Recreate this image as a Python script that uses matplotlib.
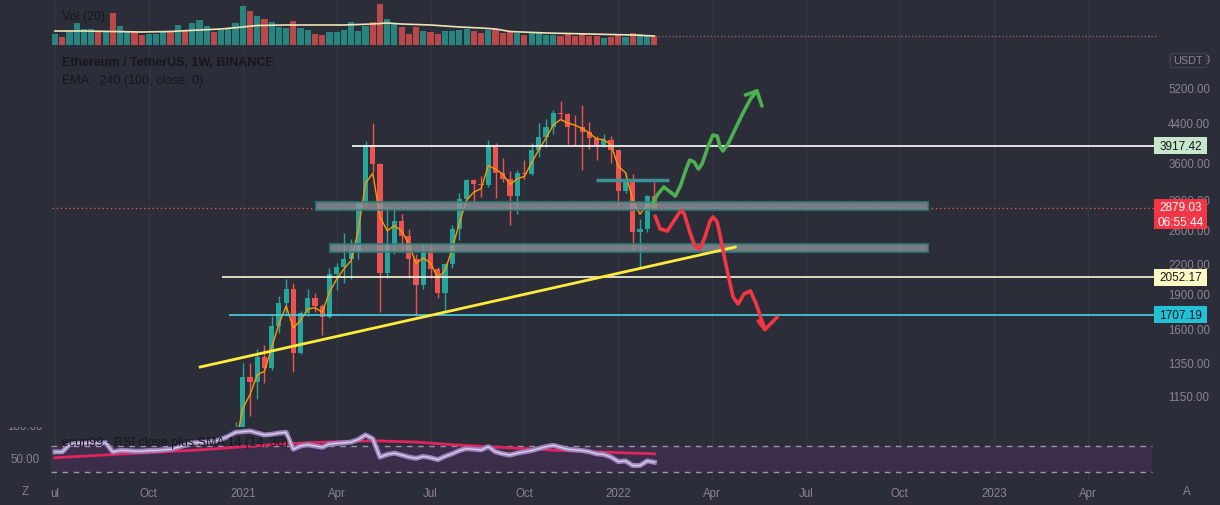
import numpy as np
import matplotlib
matplotlib.use('Agg')
import matplotlib.pyplot as plt
from matplotlib.patches import Rectangle
from matplotlib.ticker import NullLocator

plt.rcParams['font.family'] = ['Liberation Sans', 'DejaVu Sans']

# Weekly ETH/USDT candles, week 0 = 2020-07-06
opens = [241, 243, 237, 310, 386, 395, 428, 391, 435, 353, 365, 370, 354, 350, 370, 372, 405, 385, 455, 450,
         590, 595, 600, 585, 640, 680, 976, 1255, 1230, 1390, 1315, 1614, 1808, 1935, 1417, 1723, 1850, 1780, 1690, 2085,
         2160, 2240, 2320, 2950, 3930, 3580, 2100, 2400, 2710, 2510, 2250, 1980, 2320, 2140, 1900, 2190, 2600, 3010, 3310, 3240,
         3225, 3930, 3430, 3330, 3060, 3420, 3410, 3840, 4080, 4290, 4610, 4570, 4300, 4290, 4190, 4070, 3930, 4020, 3830, 3140,
         3330, 2560, 2600, 3060]
highs = [249, 245, 312, 415, 400, 445, 440, 440, 488, 390, 395, 375, 370, 375, 385, 420, 415, 470, 475, 620,
         620, 635, 600, 670, 680, 1010, 1350, 1350, 1440, 1475, 1700, 1870, 2040, 2000, 1740, 1940, 1900, 1800, 2150, 2200,
         2550, 2480, 2960, 4000, 4380, 3600, 2900, 2890, 2800, 2600, 2300, 2400, 2410, 2160, 2200, 2650, 3100, 3330, 3330, 3380,
         4030, 3970, 3680, 3460, 3480, 3650, 3970, 4380, 4460, 4670, 4870, 4600, 4550, 4780, 4400, 4100, 4150, 4100, 3840, 3420,
         3410, 2730, 3070, 3280]
lows = [234, 227, 236, 300, 370, 370, 380, 375, 310, 330, 355, 308, 330, 335, 360, 360, 370, 375, 440, 445,
        480, 560, 530, 570, 550, 680, 890, 1040, 1130, 1220, 1300, 1560, 1700, 1290, 1410, 1700, 1730, 1545, 1680, 1930,
        2000, 2040, 2250, 2920, 3450, 1730, 2050, 2300, 2320, 2050, 1700, 1940, 2050, 1850, 1720, 2150, 2460, 3000, 2950, 3050,
        3200, 3030, 3280, 2650, 2800, 3330, 3400, 3700, 3900, 4150, 4450, 3940, 3930, 3480, 3850, 3650, 3900, 3600, 2930, 3100,
        2350, 2160, 2560, 2860]
closes = [243, 237, 310, 386, 395, 428, 391, 435, 353, 365, 370, 354, 350, 370, 372, 405, 385, 455, 450, 590,
          595, 600, 585, 640, 680, 976, 1255, 1230, 1390, 1315, 1614, 1808, 1935, 1417, 1723, 1850, 1780, 1690, 2085, 2160,
          2240, 2320, 2950, 3930, 3580, 2100, 2400, 2710, 2510, 2250, 1980, 2320, 2140, 1900, 2190, 2600, 3010, 3310, 3240, 3225,
          3930, 3430, 3330, 3060, 3420, 3410, 3840, 4080, 4290, 4610, 4570, 4300, 4290, 4190, 4070, 3930, 4020, 3830, 3140, 3330,
          2560, 2600, 3060, 2879.03]
volumes = [11, 8, 14, 22, 16, 16, 14, 13, 32, 19, 14, 14, 10, 11, 11, 13, 13, 20, 14, 22,
           25, 19, 13, 15, 16, 22, 39, 34, 29, 26, 23, 18, 17, 24, 17, 15, 11, 10, 13, 13,
           15, 23, 14, 19, 23, 41, 26, 21, 18, 11, 18, 14, 13, 11, 14, 14, 15, 16, 14, 12,
           15, 16, 12, 14, 12, 10, 12, 12, 10, 10, 9, 11, 9, 12, 9, 9, 7, 8, 11, 8,
           12, 11, 9, 9]
vol_ma_weeks = [0, 4, 8, 12, 16, 20, 23, 26, 28, 32, 36, 40, 44, 46, 48, 52, 56, 59, 61, 63, 68, 74, 80, 83]
vol_ma = [14, 14, 13.5, 13, 13.5, 15, 16, 18, 19.5, 20, 20, 20, 21, 22, 21, 20, 18, 17, 16, 13.5, 12, 11, 10, 9]

ema_weeks = list(range(25, 84))
ema = [900, 1078, 1154, 1272, 1293, 1454, 1631, 1783, 1600, 1662, 1756, 1768, 1729, 1907, 2034, 2137, 2228, 2589,
       3260, 3420, 2760, 2580, 2645, 2578, 2414, 2197, 2259, 2199, 2050, 2120, 2360, 2685, 2998, 3119, 3172, 3551,
       3490, 3410, 3235, 3328, 3369, 3604, 3842, 4066, 4338, 4454, 4377, 4333, 4262, 4166, 4048, 4034, 3932, 3536,
       3433, 2997, 2798, 2929, 2904]

rsi = [61, 61, 72, 74, 74, 75, 74, 75, 61, 63, 63, 62, 62, 63, 63, 64, 65, 68, 71, 75,
       75, 76, 77, 80, 85, 91, 92, 93, 90, 87, 88, 90, 91, 65, 70, 72, 70, 68, 73, 74,
       75, 76, 80, 87, 81, 53, 57, 59, 56, 53, 51, 54, 52, 49, 54, 58, 63, 66, 65, 64,
       69, 61, 58, 56, 59, 61, 63, 66, 69, 71, 68, 65, 64, 63, 61, 58, 57, 53, 46, 47,
       40, 40, 47, 45]
rsi_sma_weeks = [0, 5, 10, 15, 20, 25, 30, 35, 40, 44, 50, 55, 60, 65, 70, 75, 80, 83]
rsi_sma = [52, 55, 58, 61, 64, 68, 72, 75, 77, 78, 76, 72, 69, 66, 63, 61, 59, 58]

# drawings on the chart (week index, price)
level_white = 3917.42
level_yellow = 2052.17
level_cyan = 1707.19
last_price = 2879.03
trend_w = [20.1, 94.2]
trend_p = [1321, 2381]
zone1 = (36.1, 120.9, 2856, 2970)
zone2 = (38.1, 120.9, 2324, 2417)
short_line = (74.9, 85.0, 3310)
green_w = [82.7, 83.5, 84.3, 85.2, 85.9, 86.6, 87.4, 87.9, 88.5, 89.1, 89.6, 90.4, 91.1, 91.7, 92.1, 92.5, 93.2,
           94.2, 95.2, 96.3, 97.2]
green_p = [2941, 3090, 3198, 3120, 3059, 3214, 3493, 3651, 3615, 3493, 3580, 3892, 4128, 4108, 3892, 3816, 3950,
           4252, 4577, 4926, 5124]
green_head_w = [95.6, 97.2, 97.9]
green_head_p = [5024, 5124, 4760]
red_w = [83.1, 83.8, 84.8, 85.7, 86.6, 87.1, 87.9, 88.6, 89.3, 90.0, 90.7, 91.1, 91.7, 92.2, 92.8, 93.4, 93.9,
         94.6, 95.4, 96.3, 97.1, 97.8, 98.3]
red_p = [2773, 2602, 2576, 2706, 2842, 2814, 2564, 2393, 2358, 2501, 2706, 2760, 2693, 2477, 2223, 2015, 1863,
         1800, 1891, 1919, 1800, 1672, 1592]
red_head_w = [97.4, 98.3, 100.0]
red_head_p = [1656, 1587, 1688]

price_ticks = [6000, 5200, 4400, 3600, 3000, 2600, 2200, 1900, 1600, 1350, 1150]
time_ticks = [0, 13, 26, 39, 52, 65, 78, 91, 104, 117, 130, 143]
time_labels = ['ul', 'Oct', '2021', 'Apr', 'Jul', 'Oct', '2022', 'Apr', 'Jul', 'Oct', '2023', 'Apr']

BG = '#2b2e39'
UP = '#26a69a'
DOWN = '#ef5350'
MUTED = '#8b8290'
W, H = 1220, 506
XLIM = (-7.62, 152.6)

fig = plt.figure(figsize=(W / 100, H / 100), dpi=100, facecolor=BG)


def fr(x, y, w, h):
    return [x / W, 1 - (y + h) / H, w / W, h / H]


ax = fig.add_axes(fr(0, 0, 1157, 428))
axv = fig.add_axes(fr(0, 0, 1157, 46))
axr = fig.add_axes(fr(0, 428, 1157, 53))
for a in (ax, axv, axr):
    a.set_facecolor('none')
    for s in a.spines.values():
        s.set_visible(False)
    a.set_xlim(*XLIM)
    a.set_xticks(time_ticks)
    a.grid(axis='x', color='#343845', lw=0.8)
    a.set_axisbelow(True)

# ---- price pane ----
ax.set_yscale('log')
ax.set_ylim(984, 8050)
ax.yaxis.set_minor_locator(NullLocator())
ax.set_yticks(price_ticks)
ax.set_yticklabels([f'{v:.2f}' for v in price_ticks])
ax.yaxis.tick_right()
ax.tick_params(axis='y', length=0, pad=8, labelsize=8.3, labelcolor=MUTED)
ax.tick_params(axis='x', length=0, labelbottom=False)

wk = np.arange(len(closes))
o = np.array(opens, float)
c = np.array(closes, float)
colors = [UP if cc >= oo else DOWN for oo, cc in zip(o, c)]
ax.vlines(wk, lows, highs, colors=colors, lw=1, zorder=2)
ax.bar(wk, np.abs(c - o), bottom=np.minimum(o, c), width=0.72, color=colors, zorder=3)
ax.plot(ema_weeks, ema, color='#ff9800', lw=1, zorder=4)

xr = XLIM[1]
ax.hlines(last_price, -0.4, xr, colors=DOWN, lw=1, linestyles=(0, (1, 2)), zorder=2)
for z in (zone1, zone2):
    ax.add_patch(Rectangle((z[0], z[2]), z[1] - z[0], z[3] - z[2], fc='#8d9199', ec='#2e7d77',
                           lw=1.5, alpha=0.8, zorder=5))
ax.hlines(short_line[2], short_line[0], short_line[1], colors='#3f8f96', lw=2.5, zorder=5)
ax.hlines(level_white, 41.1, xr, colors='#ffffff', lw=1.2, zorder=5)
ax.hlines(level_yellow, 23.1, xr, colors='#fbf6dc', lw=1.2, zorder=5)
ax.hlines(level_cyan, 24.1, xr, colors='#4dd0e1', lw=1.2, zorder=5)
ax.plot(trend_w, trend_p, color='#ffeb3b', lw=2, zorder=6)
ax.plot(green_w, green_p, color='#4caf50', lw=2.6, solid_joinstyle='round', solid_capstyle='round', zorder=7)
ax.plot(green_head_w, green_head_p, color='#4caf50', lw=2.6, solid_joinstyle='round', solid_capstyle='round', zorder=7)
ax.plot(red_w, red_p, color='#f23645', lw=2.6, solid_joinstyle='round', solid_capstyle='round', zorder=7)
ax.plot(red_head_w, red_head_p, color='#f23645', lw=2.6, solid_joinstyle='round', solid_capstyle='round', zorder=7)

# ---- volume overlay ----
axv.set_ylim(0, 46)
axv.set_yticks([])
axv.tick_params(axis='x', length=0, labelbottom=False)
axv.bar(wk, volumes, width=0.85, color=colors, alpha=0.72, zorder=2)
axv.plot(vol_ma_weeks, vol_ma, color='#efe3b5', lw=1.2, zorder=3)
axv.hlines(volumes[-1], len(volumes) - 0.5, xr, colors='#a0585c', lw=1, linestyles=(0, (1, 1.5)))

# ---- RSI pane ----
axr.set_ylim(17.7, 99.2)
axr.set_yticks([])
axr.fill_between([-0.5, 151.9], 30, 70, color='#3b2e4b', lw=0, zorder=1)
axr.hlines([30, 70], -0.5, 151.9, colors='#9598a1', lw=1, linestyles=(0, (4, 4)), zorder=2)
axr.plot(rsi_sma_weeks, rsi_sma, color='#e0245e', lw=2, zorder=3)
axr.plot(wk, rsi, color='#9d82bd', lw=3.6, zorder=4, solid_joinstyle='round')
axr.plot(wk, rsi, color='#d9cfe6', lw=1.0, zorder=5, solid_joinstyle='round')
axr.set_xticklabels(time_labels)
axr.tick_params(axis='x', length=0, pad=5, labelsize=8.3, labelcolor=MUTED)
axr.text(-4.15, 100, '100.00', color=MUTED, fontsize=8.3, ha='center', va='center', clip_on=True)
axr.text(-4.15, 50, '50.00', color=MUTED, fontsize=8.3, ha='center', va='center')

# ---- titles ----
dark = '#15171d'
fig.text(62 / W, 1 - 17 / H, 'Vol (20)', color=dark, fontsize=9, va='center')
fig.text(62 / W, 1 - 63 / H, 'Ethereum / TetherUS, 1W, BINANCE', color=dark, fontsize=9, fontweight='bold', va='center')
fig.text(62 / W, 1 - 81 / H, 'EMA · 240 (100, close, 0)', color=dark, fontsize=9, va='center')
fig.text(62 / W, 1 - 443 / H, 'ecuri99 - RSI close plus SMA 14 (14, 30)', color=dark, fontsize=9, va='center')
fig.text(25 / W, 1 - 492 / H, 'Z', color=MUTED, fontsize=8.3, ha='center', va='center')
fig.text(1187 / W, 1 - 492 / H, 'A', color=MUTED, fontsize=8.3, ha='center', va='center')

# ---- right-hand price tags ----
def y_px(v):
    return ax.transData.transform((0, v))[1]


def tag(value, lines, fc, tc, above=8.5, below=8.5):
    yp = y_px(value)
    fig.add_artist(Rectangle((1154 / W, (yp - below) / H), 53 / W, (above + below) / H,
                             transform=fig.transFigure, fc=fc, ec='none', zorder=10))
    for txt, dy in lines:
        fig.text(1180.5 / W, (yp + dy) / H, txt, color=tc, fontsize=8.5, ha='center', va='center', zorder=11)


tag(level_white, [(f'{level_white:.2f}', 0)], '#c8e6c9', '#131722')
tag(last_price, [(f'{last_price:.2f}', 1), ('06:55:44', -14)], '#f23645', '#ffffff', above=9, below=21)
tag(level_yellow, [(f'{level_yellow:.2f}', 0)], '#fff9c4', '#131722')
tag(level_cyan, [(f'{level_cyan:.2f}', 0)], '#22c1d6', '#131722')

# USDT badge over the top tick label
fig.add_artist(Rectangle((1170 / W, 1 - 68 / H), 36 / W, 14 / H, transform=fig.transFigure,
                         fc=BG, ec='#3d404b', lw=1, zorder=10))
fig.text(1188 / W, 1 - 61 / H, 'USDT', color=MUTED, fontsize=7.8, ha='center', va='center', zorder=11)

fig.savefig('out.png', dpi=100, facecolor=BG)
